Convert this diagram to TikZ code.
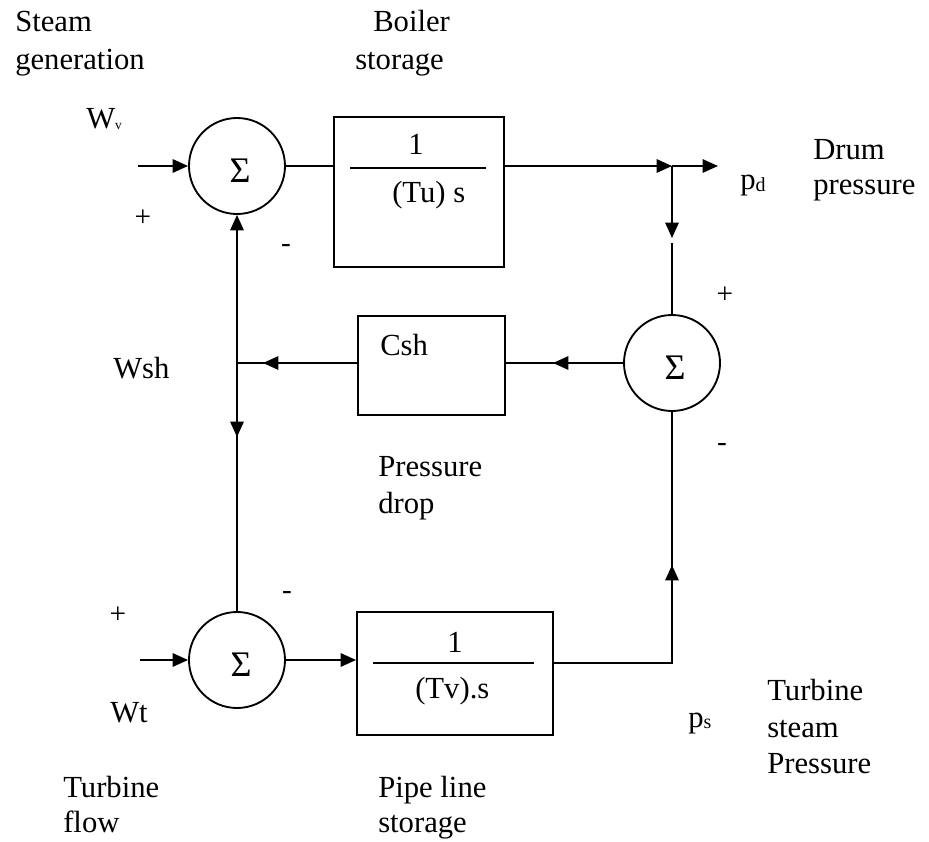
\documentclass[tikz,border=0pt]{standalone}
\usepackage{fontspec}
\setmainfont{Liberation Serif}
\usetikzlibrary{arrows.meta}
\begin{document}
\begin{tikzpicture}[x=0.75pt,y=-0.75pt,
  lw/.style={line width=1.4pt},
  arr/.style={lw,-{Triangle[length=11.5pt,width=10pt]}},
  sumc/.style={draw,lw,circle,minimum size=72pt,inner sep=0},
  blk/.style={draw,lw,rectangle,inner sep=0},
  lbl/.style={font=\fontsize{23}{28}\selectfont,inner sep=0,anchor=base west},
  sgn/.style={font=\fontsize{22}{22}\selectfont,inner sep=0,anchor=center},
  sig/.style={font=\fontsize{27}{27}\selectfont,inner sep=0,anchor=center}]
\path[use as bounding box] (0,0) rectangle (929,842);

% summing junctions
\node[sumc] (s1) at (237,166) {};
\node[sumc] (s2) at (672,363) {};
\node[sumc] (s3) at (237,660) {};
\node[sig] (g1) at (240,171) {Σ};
\node[sig] (g2) at (675,368) {Σ};
\node[sig] (g3) at (241,665) {Σ};

% blocks
\node[blk,minimum width=127.5pt,minimum height=112.5pt] (b1) at (419,192) {};
\node[blk,minimum width=110.25pt,minimum height=74.25pt] (b2) at (431.5,365.5) {};
\node[blk,minimum width=147pt,minimum height=92.25pt] (b3) at (455,673.5) {};

% fraction lines
\draw[lw] (350,168) -- (486,168);
\draw[lw] (373,663) -- (534,663);
\node[lbl,anchor=base] (n1) at (416,155) {1};
\node[lbl] (d1) at (392,202) {(Tu) s};
\node[lbl,anchor=base] (n2) at (455,652) {1};
\node[lbl] (d2) at (415,698) {(Tv).s};
\node[lbl] (csh) at (380,355) {Csh};

% coordinates
\coordinate (win) at (138,166);
\coordinate (j1) at (672,166);
\coordinate (pdend) at (718,166);
\coordinate (a1) at (672,238);
\coordinate (a1b) at (672,243);
\coordinate (j2) at (237,363);
\coordinate (a2) at (237,437);
\coordinate (a3) at (553,363);
\coordinate (a4) at (263,363);
\coordinate (wtin) at (140,660);
\coordinate (j3) at (672,663);
\coordinate (a5) at (672,565);

% connectors
\draw[arr] (win) -- (s1.west);
\draw[lw] (s1.east) -- (s1.east -| b1.west);
\draw[arr] (s1.east -| b1.east) -- (j1);
\draw[arr] (j1) -- (pdend);
\draw[arr] (j1) -- (a1);
\draw[lw] (a1b) -- (s2.north);
\draw[lw] (s2.west) -- (s2.west -| b2.east);
\draw[arr] (s2.west) -- (a3);
\draw[lw] (b2.west |- j2) -- (j2);
\draw[arr] (b2.west |- j2) -- (a4);
\draw[arr] (j2) -- (s1.south);
\draw[lw] (j2) -- (s3.north);
\draw[arr] (j2) -- (a2);
\draw[arr] (wtin) -- (s3.west);
\draw[arr] (s3.east) -- (s3.east -| b3.west);
\draw[lw] (b3.east |- j3) -- (j3) -- (s2.south);
\draw[arr] (j3) -- (a5);

% signs
\node[sgn] (p1) at (143,218) {+};
\node[sgn] (m1) at (286,248) {-};
\node[sgn] (p2) at (725,295) {+};
\node[sgn] (m2) at (722,447) {-};
\node[sgn] (p3) at (118,615) {+};
\node[sgn] (m3) at (287,595) {-};

% labels
\node[lbl] (t1) at (15,32) {Steam};
\node[lbl] (t2) at (15,70) {generation};
\node[lbl] (t3) at (373,32) {Boiler};
\node[lbl] (t4) at (355,70) {storage};
\node[lbl] (wv) at (86,128) {W\raisebox{-1pt}{\fontsize{10}{10}\selectfont v}};
\node[lbl] (pd) at (740,190) {p\raisebox{-1pt}{\fontsize{15}{15}\selectfont d}};
\node[lbl] (t5) at (813,160) {Drum};
\node[lbl] (t6) at (813,195) {pressure};
\node[lbl] (wsh) at (113,378) {Wsh};
\node[lbl] (t7) at (378,476) {Pressure};
\node[lbl] (t8) at (378,513) {drop};
\node[lbl] (wt) at (110,722) {Wt};
\node[lbl] (t9) at (63,797) {Turbine};
\node[lbl] (t10) at (63,832) {flow};
\node[lbl] (t11) at (378,797) {Pipe line};
\node[lbl] (t12) at (378,832) {storage};
\node[lbl] (ps) at (688,727) {p\raisebox{-1pt}{\fontsize{15}{15}\selectfont s}};
\node[lbl] (t13) at (767,700) {Turbine};
\node[lbl] (t14) at (767,737) {steam};
\node[lbl] (t15) at (767,773) {Pressure};
\end{tikzpicture}
\end{document}
